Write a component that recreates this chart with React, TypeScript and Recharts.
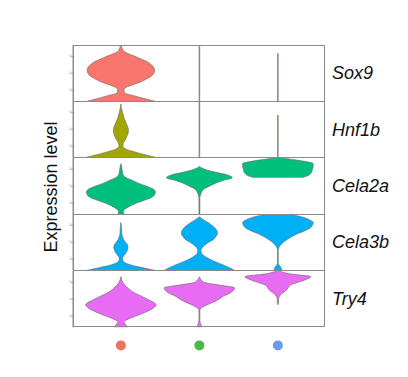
import React from 'react'
import { ComposedChart, Area, XAxis, YAxis } from 'recharts'

const GENES = ['Sox9', 'Hnf1b', 'Cela2a', 'Cela3b', 'Try4']
const GENE_COLORS = ['#F8766D', '#A3A500', '#00BF7D', '#00B0F6', '#E76BF3']
const CLUSTERS = [1, 2, 3]
const CLUSTER_COLORS = ['#EE7462', '#4CB847', '#6C9CF0']
const LEVELS = [0, 0.5, 1, 1.5, 2, 2.5, 3, 3.5, 4, 4.5, 5, 5.5, 6, 6.5, 7, 7.5, 8, 8.5, 9, 9.5, 10]

// half-widths of each violin (in cluster-spacing units) at each LEVELS entry
const SOX9 = [
  [0.44, 0.3, 0.17, 0.05, 0.04, 0.07, 0.16, 0.26, 0.33, 0.39, 0.42, 0.43, 0.42, 0.39, 0.34, 0.26, 0.18, 0.09, 0.03, 0.015, 0],
  [0.004, 0.004, 0.004, 0.004, 0.004, 0.004, 0.004, 0.004, 0.004, 0.004, 0.004, 0.004, 0.004, 0.004, 0.004, 0.004, 0.004, 0.004, 0.004, 0.004, 0.004],
  [0.004, 0.004, 0.004, 0.004, 0.004, 0.004, 0.004, 0.004, 0.004, 0.004, 0.004, 0.004, 0.004, 0.004, 0.004, 0.004, 0.004, 0.004, null, null, null],
]
const HNF1B = [
  [0.45, 0.3, 0.17, 0.06, 0.025, 0.03, 0.05, 0.07, 0.085, 0.095, 0.095, 0.085, 0.07, 0.055, 0.04, 0.03, 0.02, 0.012, 0.005, 0, null],
  [0.004, 0.004, 0.004, 0.004, 0.004, 0.004, 0.004, 0.004, 0.004, 0.004, 0.004, 0.004, 0.004, 0.004, 0.004, 0.004, 0.004, 0.004, 0.004, 0.004, 0.004],
  [0.004, 0.004, 0.004, 0.004, 0.004, 0.004, 0.004, 0.004, 0.004, 0.004, 0.004, 0.004, 0.004, 0.004, 0.004, 0.004, null, null, null, null, null],
]
const CELA2A = [
  [0.04, 0.03, 0.06, 0.12, 0.2, 0.3, 0.39, 0.43, 0.44, 0.41, 0.33, 0.23, 0.15, 0.07, 0.03, 0.02, 0.015, 0.01, 0, null, null],
  [0.006, 0.006, 0.006, 0.006, 0.006, 0.006, 0.006, 0.015, 0.03, 0.06, 0.13, 0.2, 0.3, 0.42, 0.36, 0.2, 0.07, 0, null, null, null],
  [null, null, null, null, null, null, null, null, null, null, null, null, null, 0.3, 0.4, 0.43, 0.44, 0.45, 0.45, 0.3, 0.05],
]
const CELA3B = [
  [0.44, 0.27, 0.12, 0.04, 0.02, 0.03, 0.06, 0.08, 0.09, 0.085, 0.06, 0.035, 0.02, 0.012, 0.01, 0.008, 0.005, 0, null, null, null],
  [0.45, 0.38, 0.3, 0.21, 0.13, 0.07, 0.03, 0.02, 0.035, 0.07, 0.12, 0.18, 0.21, 0.23, 0.225, 0.2, 0.16, 0.11, 0.05, 0, null],
  [0.05, 0.04, 0.012, 0.005, 0.005, 0.005, 0.005, 0.005, 0.012, 0.035, 0.07, 0.12, 0.18, 0.25, 0.34, 0.41, 0.44, 0.45, 0.4, 0.3, 0.13],
]
const TRY4 = [
  [0.085, 0.06, 0.04, 0.1, 0.19, 0.28, 0.36, 0.42, 0.45, 0.41, 0.34, 0.27, 0.19, 0.13, 0.09, 0.05, 0.025, 0.01, 0, null, null],
  [0.03, 0.02, 0.008, 0.006, 0.006, 0.006, 0.006, 0.03, 0.1, 0.18, 0.25, 0.3, 0.38, 0.43, 0.45, 0.26, 0.06, 0.02, 0, null, null],
  [null, null, null, null, null, null, null, null, 0, 0.01, 0.008, 0.02, 0.05, 0.1, 0.13, 0.16, 0.26, 0.36, 0.42, 0.15, 0.02],
]
const ROWS = [SOX9, HNF1B, CELA2A, CELA3B, TRY4]

const ROW_TOP = 45
const ROW_H = 56.4
const PLOT_LEFT = 73
const PLOT_W = 252
const AXIS_W = 6
const X_DOMAIN: [number, number] = [0.39, 3.6]
const FRAME = '#8a8a8a'
const FONT = '"Liberation Sans", Arial, sans-serif'

// one small table per violin, only the levels it covers
function violinData(widths: (number | null)[], center: number) {
  const out: { lvl: number; span: [number, number] }[] = []
  widths.forEach((w, i) => {
    if (w != null) out.push({ lvl: LEVELS[i], span: [center - w, center + w] })
  })
  return out
}

const ClusterDot = (props: any) => {
  const { x, y, payload } = props
  return <circle cx={x} cy={y + 10} r={5} fill={CLUSTER_COLORS[payload.value - 1]} />
}

function ViolinRow({ idx }: { idx: number }) {
  const last = idx === ROWS.length - 1
  return (
    <div style={{ position: 'absolute', left: PLOT_LEFT - AXIS_W, top: ROW_TOP + idx * ROW_H }}>
      <ComposedChart
        width={PLOT_W + AXIS_W}
        height={ROW_H + (last ? 30 : 0)}
        layout="vertical"
        margin={{ top: 0, right: 0, bottom: 0, left: 0 }}
      >
        <XAxis
          type="number"
          domain={X_DOMAIN}
          allowDataOverflow
          hide={!last}
          ticks={CLUSTERS}
          height={30}
          axisLine={false}
          tickLine={false}
          tick={<ClusterDot />}
        />
        <YAxis
          type="number"
          dataKey="lvl"
          domain={[0, 10]}
          allowDataOverflow
          reversed
          width={AXIS_W}
          ticks={[2, 5, 8]}
          tickSize={2}
          tickMargin={0}
          axisLine={{ stroke: FRAME }}
          tickLine={{ stroke: '#999' }}
          tick={{ fontSize: 3, fill: '#aaa' }}
        />
        {CLUSTERS.map((c, ci) => (
          <Area
            key={c}
            data={violinData(ROWS[idx][ci], c)}
            dataKey="span"
            type="monotone"
            fill={GENE_COLORS[idx]}
            fillOpacity={1}
            stroke="#6a6a6a"
            strokeWidth={0.6}
            dot={false}
            activeDot={false}
            isAnimationActive={false}
          />
        ))}
      </ComposedChart>
    </div>
  )
}

export default function App() {
  return (
    <div style={{ position: 'absolute', left: 0, top: 0, width: 408, height: 377, background: '#fff', fontFamily: FONT }}>
      {GENES.map((_, i) => (
        <ViolinRow key={i} idx={i} />
      ))}
      <div
        style={{
          position: 'absolute',
          left: PLOT_LEFT,
          top: ROW_TOP,
          width: PLOT_W,
          height: ROW_H * GENES.length,
          border: `1px solid ${FRAME}`,
          boxSizing: 'border-box',
          pointerEvents: 'none',
        }}
      />
      {GENES.slice(1).map((_, i) => (
        <div
          key={i}
          style={{
            position: 'absolute',
            left: PLOT_LEFT,
            top: ROW_TOP + (i + 1) * ROW_H - 0.5,
            width: PLOT_W,
            height: 1,
            background: FRAME,
          }}
        />
      ))}
      {GENES.map((g, i) => (
        <div
          key={g}
          style={{
            position: 'absolute',
            left: 332,
            top: ROW_TOP + i * ROW_H + ROW_H / 2 - 12,
            lineHeight: '24px',
            fontSize: 18,
            fontStyle: 'italic',
            color: '#111',
          }}
        >
          {g}
        </div>
      ))}
      <div
        style={{
          position: 'absolute',
          left: 51 - 100,
          top: 187 - 12,
          width: 200,
          lineHeight: '24px',
          textAlign: 'center',
          fontSize: 18,
          color: '#111',
          transform: 'rotate(-90deg)',
        }}
      >
        Expression level
      </div>
    </div>
  )
}
